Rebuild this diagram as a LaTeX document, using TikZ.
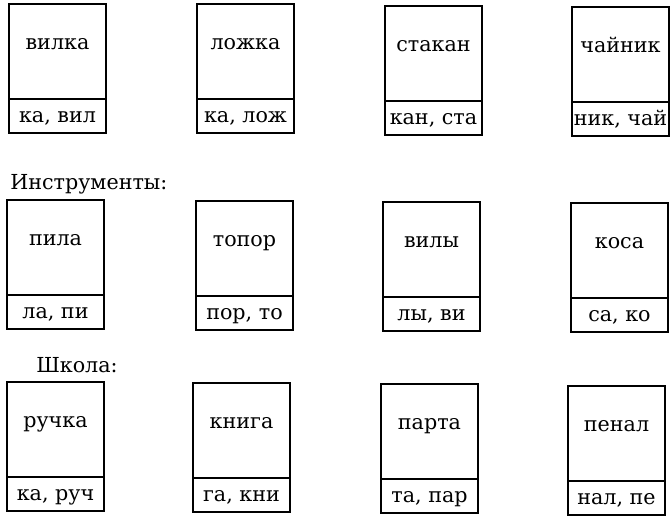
\documentclass[tikz,border=0pt]{standalone}
\usepackage{fontspec}
\setmainfont{DejaVu Serif}
\usetikzlibrary{positioning}

\tikzset{
    card/.style={draw, line width=1.2pt, minimum width=72.75pt, minimum height=71.25pt,
        anchor=north west, inner sep=0pt, outer sep=0pt},
    strip/.style={draw, line width=1.2pt, minimum width=72.75pt, minimum height=25.5pt,
        inner sep=0pt, outer sep=0pt},
    word/.style={anchor=base, inner sep=0pt, font=\fontsize{15.5}{18}\selectfont},
    heading/.style={anchor=base west, inner sep=0pt, font=\fontsize{15.5}{18}\selectfont}
}

\begin{document}
\begin{tikzpicture}[x=0.75pt, y=-0.75pt]

        \useasboundingbox (0,0) rectangle (672,519);

        \node[heading] (tools) at (10,189) {Инструменты:};
        \node[heading] (school) at (36,372) {Школа:};

        \foreach \x/\y/\word/\syl [count=\i] in {
                9/4/вилка/{ка, вил}, 197/4/ложка/{ка, лож},
                385/6/стакан/{кан, ста}, 572/7/чайник/{ник, чай},
                7/200/пила/{ла, пи}, 196/201/топор/{пор, то},
                383/202/вилы/{лы, ви}, 571/203/коса/{са, ко},
                7/382/ручка/{ка, руч}, 193/383/книга/{га, кни},
                381/384/парта/{та, пар}, 568/386/пенал/{нал, пе}}
        {
            \node[card] (c\i) at (\x,\y) {};
            \node[strip, below=0pt of c\i.south] (s\i) {};
            \node[word] (w\i) at ([yshift=-33.75pt]c\i.north) {\word};
            \node[word] (p\i) at ([yshift=-17.25pt]s\i.north) {\syl};
        }

\end{tikzpicture}
\end{document}
